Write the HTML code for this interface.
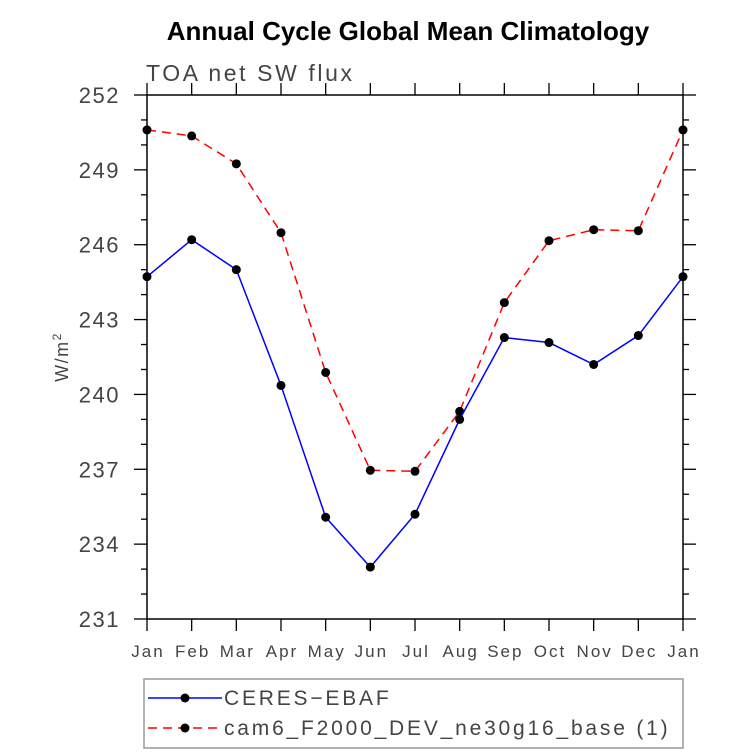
<!DOCTYPE html>
<html><head><meta charset="utf-8"><style>
html,body{margin:0;padding:0;background:#fff;}
svg{display:block;font-family:"Liberation Sans",sans-serif;}
</style></head><body>
<svg id="chart" width="733" height="754">
<text x="408" y="40" text-anchor="middle" font-size="26" font-weight="bold" fill="#000">Annual Cycle Global Mean Climatology</text>
<text x="146" y="81" font-size="23" fill="#444" letter-spacing="2.6">TOA net SW flux</text>
<text transform="translate(68,357) rotate(-90)" text-anchor="middle" font-size="18" letter-spacing="1.5" fill="#444">W/m<tspan dy="-7" font-size="12">2</tspan></text>
<g id="axes"></g>
<g id="series"></g>
<rect x="144" y="679" width="539" height="69" fill="none" stroke="#999" stroke-width="1.5"/>
<g>
<line x1="148" y1="698" x2="222" y2="698" stroke="#00f" stroke-width="1.5"/>
<circle cx="185" cy="698" r="4.5" fill="#000"/>
<text x="224" y="705" font-size="21" letter-spacing="2.8" fill="#444">CERES−EBAF</text>
</g>
<g>
<line x1="148" y1="728" x2="222" y2="728" stroke="#f00" stroke-width="1.5" stroke-dasharray="9,6"/>
<circle cx="185" cy="728" r="4.5" fill="#000"/>
<text x="224" y="735" font-size="21" letter-spacing="2.8" fill="#444">cam6_F2000_DEV_ne30g16_base (1)</text>
</g>
</svg>
<script>
const months=["Jan","Feb","Mar","Apr","May","Jun","Jul","Aug","Sep","Oct","Nov","Dec","Jan"];
const yTicks=[231,234,237,240,243,246,249,252];
const ceres=[244.72,246.2,245.0,240.36,235.08,233.08,235.2,239.0,242.28,242.08,241.2,242.36,244.72];
const cam6=[250.6,250.36,249.24,246.48,240.88,236.96,236.92,239.32,243.68,246.16,246.6,246.56,250.6];
const X0=147,X1=683,Y0=95,Y1=619,YMIN=231,YMAX=252;
function xs(i){return X0+(X1-X0)*i/(months.length-1);}
function ys(v){return Y1-(v-YMIN)/(YMAX-YMIN)*(Y1-Y0);}
const NS="http://www.w3.org/2000/svg";
function mk(t,a,p){const e=document.createElementNS(NS,t);for(const k in a)e.setAttribute(k,a[k]);p.appendChild(e);return e;}
const ax=document.getElementById('axes');
const frame=mk('rect',{x:X0,y:Y0,width:X1-X0,height:Y1-Y0,fill:'none',stroke:'#000','stroke-width':1.5},ax);


for(let v=YMIN;v<=YMAX;v++){
  const y=ys(v),maj=(v-YMIN)%3===0,L=maj?13:6;
  mk('line',{x1:X0-L,y1:y,x2:X0,y2:y,stroke:'#000','stroke-width':1.3},ax);
  mk('line',{x1:X1,y1:y,x2:X1+L,y2:y,stroke:'#000','stroke-width':1.3},ax);
}
yTicks.forEach(v=>{
  const t=mk('text',{x:X0-27,y:ys(v)+8,'text-anchor':'end','font-size':22,'letter-spacing':1.5,fill:'#444'},ax);
  t.textContent=v;
  
  
});
months.forEach((m,i)=>{
  const x=xs(i);
  mk('line',{x1:x,y1:Y1,x2:x,y2:Y1+12,stroke:'#000','stroke-width':1.3},ax);
  mk('line',{x1:x,y1:Y0-12,x2:x,y2:Y0,stroke:'#000','stroke-width':1.3},ax);
  const t=mk('text',{x:x+1,y:657,'text-anchor':'middle','font-size':17,'letter-spacing':2,fill:'#444'},ax);
  t.textContent=m;
  
  
});
const sg=document.getElementById('series');
function draw(vals,color,dash,name){
  const g=mk('g',{},sg);
  
  
  const pts=vals.map((v,i)=>xs(i)+','+ys(v)).join(' ');
  const a={points:pts,fill:'none',stroke:color,'stroke-width':1.5};
  if(dash)a['stroke-dasharray']=dash;
  mk('polyline',a,g);
  vals.forEach((v,i)=>{
    const c=mk('circle',{cx:xs(i),cy:ys(v),r:4.5,fill:'#000'},g);
    
    
  });
}
draw(cam6,'#f00','9,6','cam6-series');
draw(ceres,'#00f',null,'ceres-series');
</script>
</body></html>
